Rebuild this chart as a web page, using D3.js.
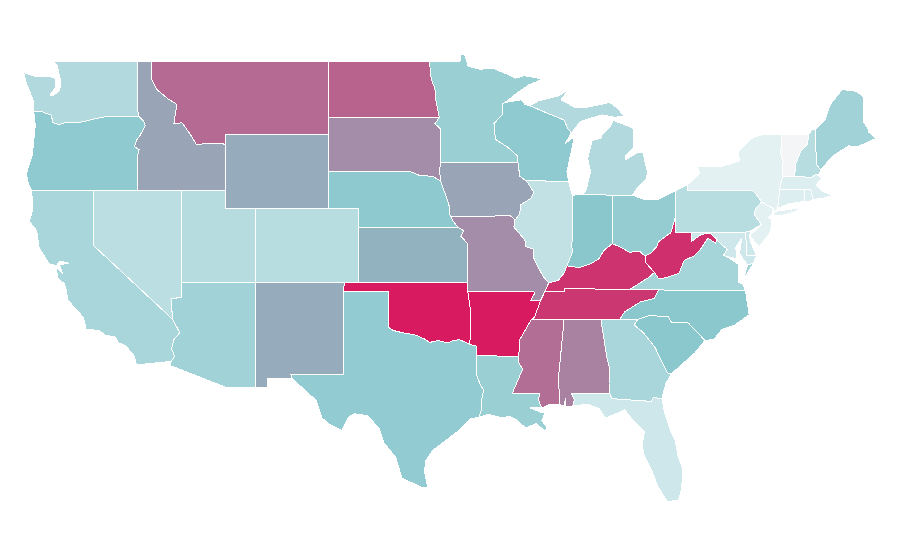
<!DOCTYPE html>
<html><head><meta charset="utf-8">
<script src="https://cdnjs.cloudflare.com/ajax/libs/d3/7.8.5/d3.min.js"></script>
<style>html,body{margin:0;padding:0;background:#fff}svg{display:block}</style>
</head><body><svg width="900" height="560"></svg>
<script>
const stateNames=["WA","OR","CA","NV","ID","UT","AZ","CO","WY","MT","ND","SD","NE","KS","NM","OK","TX","MN","IA","MO","AR","LA","MS","AL","WI","IL","IN","MI","OH","KY","TN","WV","VA","NC","SC","GA","FL","PA","NY","NJ","DE","MD","CT","RI","MA","VT","NH","ME"];
const stateValues=[31,47,35,27,60,29,39,28,58,77,79,67,48,56,58,100,46,42,60,67,100,42,76,70,47,24,50,31,45,93,92,94,37,49,49,35,18,28,8,8,18,18,11,11,11,0,28,39];
const colorStops=["#f4f5f6","#e3f1f3","#89c7cd","#d81b60"];
const valueStops=[0,8,50,100];

const outlines={
WA:[[[-124.73,48.38],[-124.6,47.9],[-124.3,47.3],[-124.1,46.9],[-124.05,46.27],[-123.5,46.26],[-123.2,46.15],[-122.9,46.1],[-122.8,45.85],[-122.75,45.65],[-122.3,45.55],[-121.9,45.68],[-121.2,45.65],[-120.6,45.73],[-119.6,45.92],[-118.98,46],[-116.92,46],[-116.96,46.2],[-117.04,46.42],[-117.03,49],[-122.76,49],[-122.45,48.75],[-122.35,48.3],[-122.2,47.9],[-122.3,47.4],[-122.7,47.15],[-122.95,47.15],[-122.55,47.6],[-122.55,47.95],[-122.7,48.12],[-123.2,48.15],[-124,48.17]]],
OR:[[[-124.05,46.27],[-123.95,45.5],[-124.05,44.7],[-124.15,43.9],[-124.4,43.3],[-124.55,42.84],[-124.4,42.3],[-124.2,42],[-117.03,42],[-117.03,43.83],[-116.9,44.2],[-117.22,44.35],[-117.05,44.75],[-116.85,44.95],[-116.5,45.5],[-116.6,45.75],[-116.92,46],[-118.98,46],[-119.6,45.92],[-120.6,45.73],[-121.2,45.65],[-121.9,45.68],[-122.3,45.55],[-122.75,45.65],[-122.8,45.85],[-122.9,46.1],[-123.2,46.15],[-123.5,46.26]]],
CA:[[[-124.2,42],[-120,42],[-120,39],[-114.63,35],[-114.15,34.27],[-114.55,33.9],[-114.7,33.4],[-114.5,33],[-114.72,32.72],[-117.08,32.53],[-117.28,33.1],[-117.9,33.6],[-118.35,33.75],[-118.5,34.03],[-119.2,34.15],[-119.6,34.38],[-120.5,34.47],[-120.68,35.1],[-121.3,35.65],[-121.75,36.05],[-121.85,36.6],[-122,36.95],[-122.4,37.2],[-122.5,37.6],[-122.45,37.8],[-122.1,37.5],[-122.3,37.95],[-121.7,38.05],[-122.3,38.15],[-122.5,37.9],[-123,38],[-123.7,38.9],[-123.78,39.4],[-123.85,39.8],[-124.35,40.3],[-124.1,41]]],
NV:[[[-120,42],[-114.04,42],[-114.05,36.2],[-114.75,36.1],[-114.63,35],[-120,39]]],
ID:[[[-117.03,49],[-116.05,49],[-116.05,48],[-115.7,47.45],[-114.95,46.95],[-114.35,46.65],[-114.55,45.6],[-114,45.65],[-113.45,45.05],[-113,44.45],[-112.3,44.55],[-111.5,44.55],[-111.05,44.48],[-111.05,42],[-117.03,42],[-117.03,43.83],[-116.9,44.2],[-117.22,44.35],[-117.05,44.75],[-116.85,44.95],[-116.5,45.5],[-116.6,45.75],[-116.92,46],[-116.96,46.2],[-117.04,46.42]]],
UT:[[[-114.04,42],[-111.05,42],[-111.05,41],[-109.05,41],[-109.05,37],[-114.05,37]]],
AZ:[[[-114.05,37],[-109.05,37],[-109.05,31.33],[-111.07,31.33],[-114.82,32.5],[-114.72,32.72],[-114.5,33],[-114.7,33.4],[-114.55,33.9],[-114.15,34.27],[-114.63,35],[-114.75,36.1],[-114.05,36.2]]],
CO:[[[-109.05,41],[-102.05,41],[-102.05,37],[-109.05,37]]],
WY:[[[-111.05,45],[-104.05,45],[-104.05,41],[-111.05,41]]],
MT:[[[-116.05,49],[-104.05,49],[-104.05,45],[-111.05,45],[-111.05,44.48],[-111.5,44.55],[-112.3,44.55],[-113,44.45],[-113.45,45.05],[-114,45.65],[-114.55,45.6],[-114.35,46.65],[-114.95,46.95],[-115.7,47.45],[-116.05,48]]],
ND:[[[-104.05,49],[-97.23,49],[-97.1,48],[-96.85,47.5],[-96.8,46.9],[-96.56,45.94],[-104.05,45.94]]],
SD:[[[-104.05,45.94],[-96.56,45.94],[-96.85,45.6],[-96.45,45.3],[-96.45,43.5],[-96.55,43.1],[-96.45,42.49],[-97,42.75],[-97.9,42.8],[-98.5,43],[-104.05,43]]],
NE:[[[-104.05,43],[-98.5,43],[-97.9,42.8],[-97,42.75],[-96.45,42.49],[-96.25,42],[-96.1,41.7],[-95.9,41.2],[-95.85,40.7],[-95.77,40.58],[-95.6,40.3],[-95.31,40],[-102.05,40],[-102.05,41],[-104.05,41]]],
KS:[[[-102.05,40],[-95.31,40],[-94.9,39.8],[-95.1,39.5],[-94.62,39.1],[-94.62,37],[-102.05,37]]],
NM:[[[-109.05,37],[-103,37],[-103.04,36.5],[-103.06,32],[-106.62,32],[-106.53,31.78],[-108.2,31.78],[-108.2,31.33],[-109.05,31.33]]],
OK:[[[-103,37],[-94.62,37],[-94.62,36.5],[-94.43,35.4],[-94.48,33.64],[-95.2,33.9],[-95.6,33.85],[-96,33.72],[-96.6,33.85],[-97.2,33.75],[-97.6,33.95],[-98.1,34.13],[-99.2,34.3],[-99.7,34.4],[-100,34.56],[-100,36.5],[-103.04,36.5]]],
TX:[[[-103.04,36.5],[-100,36.5],[-100,34.56],[-99.7,34.4],[-99.2,34.3],[-98.1,34.13],[-97.6,33.95],[-97.2,33.75],[-96.6,33.85],[-96,33.72],[-95.6,33.85],[-95.2,33.9],[-94.48,33.64],[-94.04,33.55],[-94.04,33.02],[-94.04,32],[-93.8,31.5],[-93.55,31.15],[-93.7,30.6],[-93.7,30.1],[-93.85,29.7],[-94.45,29.6],[-94.7,29.4],[-95.2,29],[-96,28.5],[-97,27.9],[-97.5,27.3],[-97.55,26.7],[-97.35,25.9],[-97.6,25.85],[-98.2,26.06],[-99.1,26.4],[-99.5,27.5],[-100.3,28.3],[-100.65,29.1],[-101.4,29.77],[-102.3,29.88],[-102.7,29.7],[-103.15,28.98],[-104,29.3],[-104.5,29.65],[-104.9,30.6],[-106,31.4],[-106.53,31.78],[-106.62,32],[-103.06,32]]],
MN:[[[-97.23,49],[-95.15,49],[-95.15,49.38],[-94.82,49.32],[-94.6,48.72],[-93.8,48.55],[-92.95,48.62],[-92,48.3],[-91.4,48.07],[-90.8,48.2],[-90,48.1],[-89.6,48],[-90.5,47.7],[-91.3,47.25],[-92.1,46.75],[-92.29,46.66],[-92.29,46.1],[-92.85,45.6],[-92.75,44.75],[-91.95,44.35],[-91.25,43.85],[-91.22,43.5],[-96.45,43.5],[-96.45,45.3],[-96.85,45.6],[-96.56,45.94],[-96.8,46.9],[-96.85,47.5],[-97.1,48]]],
IA:[[[-96.45,43.5],[-91.22,43.5],[-91.1,42.75],[-90.65,42.5],[-90.15,41.9],[-90.35,41.55],[-91.05,41.2],[-91.1,40.7],[-91.42,40.38],[-91.73,40.61],[-94.5,40.58],[-95.77,40.58],[-95.85,40.7],[-95.9,41.2],[-96.1,41.7],[-96.25,42],[-96.45,42.49],[-96.55,43.1]]],
MO:[[[-95.77,40.58],[-94.5,40.58],[-91.73,40.61],[-91.42,40.38],[-91.5,40],[-90.75,39.3],[-90.7,38.95],[-90.15,38.8],[-90.2,38.4],[-89.9,37.9],[-89.5,37.3],[-89.13,36.98],[-89.4,36.5],[-89.7,36],[-90.37,36],[-90.1,36.4],[-90.15,36.5],[-94.62,36.5],[-94.62,37],[-94.62,39.1],[-95.1,39.5],[-94.9,39.8],[-95.31,40],[-95.6,40.3]]],
AR:[[[-94.62,36.5],[-90.15,36.5],[-90.1,36.4],[-90.37,36],[-89.7,36],[-90.1,35.1],[-90.3,35],[-90.6,34.6],[-91.1,33.9],[-91.17,33],[-94.04,33.02],[-94.04,33.55],[-94.48,33.64],[-94.43,35.4]]],
LA:[[[-94.04,33.02],[-91.17,33],[-91.15,32.6],[-90.9,32.3],[-91.6,31],[-89.73,31],[-89.85,30.65],[-89.6,30.2],[-90.4,30.2],[-89.8,30],[-89.4,29.9],[-89.6,29.5],[-89.25,29.15],[-89.4,28.95],[-90,29.35],[-90.7,29.1],[-91.3,29.55],[-91.85,29.75],[-92.3,29.65],[-93.2,29.85],[-93.85,29.7],[-93.7,30.1],[-93.7,30.6],[-93.55,31.15],[-93.8,31.5],[-94.04,32]]],
MS:[[[-90.3,35],[-88.2,35],[-88.1,34.9],[-88.47,31.9],[-88.4,30.37],[-89.1,30.38],[-89.6,30.2],[-89.85,30.65],[-89.73,31],[-91.6,31],[-90.9,32.3],[-91.15,32.6],[-91.17,33],[-91.1,33.9],[-90.6,34.6]]],
AL:[[[-88.2,35],[-85.6,34.98],[-85.18,32.87],[-85,32.3],[-85.05,31.5],[-85,31],[-87.6,31],[-87.4,30.65],[-87.5,30.3],[-88,30.25],[-88,30.7],[-88.1,30.3],[-88.4,30.37],[-88.47,31.9],[-88.1,34.9]]],
WI:[[[-92.1,46.75],[-91,46.9],[-90.75,46.65],[-90.42,46.57],[-89.1,46.13],[-88.1,45.8],[-87.85,45.35],[-87.6,45.1],[-88,44.55],[-87.4,44.9],[-87.55,44.3],[-87.9,43],[-87.8,42.49],[-90.65,42.5],[-91.1,42.75],[-91.22,43.5],[-91.25,43.85],[-91.95,44.35],[-92.75,44.75],[-92.85,45.6],[-92.29,46.1],[-92.29,46.66]]],
IL:[[[-90.65,42.5],[-87.8,42.49],[-87.53,41.7],[-87.53,39.35],[-87.6,39],[-87.5,38.7],[-87.9,37.9],[-88.1,37.5],[-88.5,37.1],[-89.13,36.98],[-89.5,37.3],[-89.9,37.9],[-90.2,38.4],[-90.15,38.8],[-90.7,38.95],[-90.75,39.3],[-91.5,40],[-91.42,40.38],[-91.1,40.7],[-91.05,41.2],[-90.35,41.55],[-90.15,41.9]]],
IN:[[[-87.53,41.7],[-87.2,41.76],[-86.82,41.76],[-84.81,41.73],[-84.82,39.1],[-85.4,38.73],[-85.75,38.27],[-86.3,38],[-87.1,37.8],[-87.9,37.9],[-87.5,38.7],[-87.6,39],[-87.53,39.35]]],
MI:[[[-86.82,41.76],[-84.81,41.73],[-83.45,41.73],[-83.15,42.1],[-82.5,42.6],[-82.45,43],[-82.75,44.05],[-83.05,44.07],[-83.9,43.65],[-83.9,43.9],[-83.4,44.3],[-83.4,45.35],[-84,45.55],[-84.75,45.78],[-85,45.4],[-85.55,45],[-85.6,44.8],[-86.2,44.7],[-86.5,43.7],[-86.3,43],[-86.6,42]],[[-90.42,46.57],[-89.8,46.85],[-88.5,47.1],[-87.8,47.45],[-88.3,46.9],[-87.4,46.5],[-86.5,46.5],[-85,46.75],[-84.5,46.45],[-84,46],[-84.7,45.95],[-85.5,46.08],[-86.5,45.85],[-87,45.7],[-87.6,45.1],[-87.85,45.35],[-88.1,45.8],[-89.1,46.13]]],
OH:[[[-84.81,41.73],[-83.45,41.73],[-82.7,41.5],[-81.7,41.5],[-80.52,41.98],[-80.52,40.64],[-80.85,39.7],[-81.7,39.2],[-81.8,38.95],[-82.2,38.6],[-82.6,38.42],[-83,38.7],[-83.65,38.63],[-84.25,38.9],[-84.82,39.1]]],
KY:[[[-89.4,36.5],[-88.07,36.5],[-88.07,36.68],[-86.5,36.65],[-83.68,36.6],[-82.3,37.3],[-81.97,37.54],[-82.6,38.1],[-82.6,38.42],[-83,38.7],[-83.65,38.63],[-84.25,38.9],[-84.82,39.1],[-85.4,38.73],[-85.75,38.27],[-86.3,38],[-87.1,37.8],[-87.9,37.9],[-88.1,37.5],[-88.5,37.1],[-89.13,36.98]]],
TN:[[[-90.3,35],[-88.2,35],[-85.6,34.98],[-84.32,34.99],[-84,35.4],[-82.9,35.95],[-82,36.12],[-81.68,36.59],[-83.68,36.6],[-86.5,36.65],[-88.07,36.68],[-88.07,36.5],[-89.4,36.5],[-89.7,36],[-90.1,35.1]]],
WV:[[[-82.6,38.42],[-82.6,38.1],[-81.97,37.54],[-81.68,37.2],[-81.2,37.25],[-80.3,37.5],[-79.95,38.2],[-79.3,38.42],[-78.87,38.76],[-78.35,39.4],[-77.83,39.13],[-77.72,39.32],[-78.2,39.67],[-78.8,39.6],[-79.48,39.2],[-79.48,39.72],[-80.52,39.72],[-80.52,40.64],[-80.85,39.7],[-81.7,39.2],[-81.8,38.95],[-82.2,38.6]]],
VA:[[[-83.68,36.6],[-81.68,36.59],[-75.8,36.55],[-76,36.93],[-76.3,37],[-76.3,37.55],[-76.3,38],[-77.05,38.4],[-77.3,38.45],[-77.04,38.8],[-77.5,39.1],[-77.72,39.32],[-77.83,39.13],[-78.35,39.4],[-78.87,38.76],[-79.3,38.42],[-79.95,38.2],[-80.3,37.5],[-81.2,37.25],[-81.68,37.2],[-81.97,37.54],[-82.3,37.3]],[[-75.95,37.15],[-75.65,37.95],[-75.25,38.03]]],
NC:[[[-84.32,34.99],[-83.1,35],[-82.3,35.2],[-81.05,35.15],[-80.8,34.82],[-79.67,34.8],[-78.55,33.86],[-77.95,33.9],[-77.4,34.45],[-76.5,34.7],[-75.55,35.25],[-75.8,36.55],[-81.68,36.59],[-82,36.12],[-82.9,35.95],[-84,35.4]]],
SC:[[[-83.1,35],[-82.3,35.2],[-81.05,35.15],[-80.8,34.82],[-79.67,34.8],[-78.55,33.86],[-79.2,33.2],[-79.9,32.7],[-80.85,32.03],[-81.1,32.1],[-81.4,32.6],[-81.95,33.5],[-82.75,34.3],[-83.35,34.7]]],
GA:[[[-85.6,34.98],[-83.1,35],[-83.35,34.7],[-82.75,34.3],[-81.95,33.5],[-81.4,32.6],[-81.1,32.1],[-80.85,32.03],[-81.2,31.5],[-81.4,30.9],[-81.45,30.71],[-82.05,30.75],[-82.2,30.55],[-84.86,30.7],[-85,31],[-85.05,31.5],[-85,32.3],[-85.18,32.87]]],
FL:[[[-87.6,31],[-85,31],[-84.86,30.7],[-82.2,30.55],[-82.05,30.75],[-81.45,30.71],[-81.3,30],[-80.9,29],[-80.55,28.4],[-80.35,27.5],[-80.05,26.9],[-80.12,25.8],[-80.35,25.2],[-81.1,25.12],[-81.75,25.95],[-82.1,26.7],[-82.7,27.7],[-82.8,28.2],[-82.65,28.9],[-83.4,29.5],[-84,30.1],[-84.35,29.95],[-85.3,29.65],[-85.7,30.15],[-86.5,30.4],[-87.5,30.3],[-87.4,30.65]]],
PA:[[[-80.52,41.98],[-79.76,42.27],[-79.76,42],[-75.35,42],[-75.05,41.75],[-74.7,41.36],[-75.13,40.98],[-75.2,40.65],[-74.72,40.15],[-75.4,39.8],[-75.79,39.72],[-80.52,39.72]]],
NY:[[[-79.76,42.27],[-78.9,42.9],[-79.05,43.27],[-77.5,43.27],[-76.5,43.5],[-76.2,43.6],[-76.3,44.1],[-75.3,44.85],[-74.7,45],[-73.35,45],[-73.4,44],[-73.25,43.55],[-73.28,42.75],[-73.5,42.05],[-73.55,41.3],[-73.65,41],[-73.9,40.8],[-73.9,41],[-74.7,41.36],[-75.05,41.75],[-75.35,42],[-79.76,42]],[[-74,40.6],[-73.75,40.85],[-72.6,40.98],[-72,41.1],[-72.5,40.8],[-73.5,40.6]]],
NJ:[[[-74.7,41.36],[-73.9,41],[-74,40.7],[-74.25,40.5],[-74,40.4],[-74.1,39.75],[-74.4,39.4],[-74.9,38.93],[-75.5,39.55],[-74.72,40.15],[-75.2,40.65],[-75.13,40.98]]],
DE:[[[-75.79,39.72],[-75.4,39.8],[-75.55,39.5],[-75.4,39.1],[-75.05,38.45],[-75.7,38.46]]],
MD:[[[-79.48,39.72],[-75.79,39.72],[-75.7,38.46],[-75.05,38.45],[-75.25,38.03],[-75.65,37.95],[-75.9,38.2],[-76.2,38.6],[-76.05,39.4],[-76.45,38.9],[-76.4,38.3],[-77.05,38.4],[-77.3,38.45],[-77.04,38.8],[-77.5,39.1],[-77.72,39.32],[-78.2,39.67],[-78.8,39.6],[-79.48,39.2]]],
CT:[[[-73.5,42.05],[-71.8,42.02],[-71.8,41.4],[-72.9,41.25],[-73.65,41],[-73.55,41.3]]],
RI:[[[-71.8,42.02],[-71.38,42.02],[-71.2,41.5],[-71.5,41.37],[-71.8,41.4]]],
MA:[[[-73.5,42.05],[-73.28,42.75],[-72.46,42.73],[-71.3,42.7],[-71,42.87],[-70.6,42.65],[-71,42.3],[-70.6,41.95],[-70,41.75],[-70.2,42.07],[-69.95,41.7],[-70.6,41.55],[-71.2,41.5],[-71.38,42.02],[-71.8,42.02]]],
VT:[[[-73.35,45],[-71.5,45.01],[-71.6,44.5],[-72.05,44.1],[-72.4,43.4],[-72.46,42.73],[-73.28,42.75],[-73.25,43.55],[-73.4,44]]],
NH:[[[-71.5,45.01],[-71.3,45.3],[-71.08,45.3],[-70.98,43.4],[-70.7,43.08],[-70.82,42.87],[-71,42.87],[-71.3,42.7],[-72.46,42.73],[-72.4,43.4],[-72.05,44.1],[-71.6,44.5]]],
ME:[[[-71.08,45.3],[-70.4,45.8],[-70.25,46.2],[-70,46.7],[-69.23,47.46],[-69,47.43],[-68.3,47.36],[-67.8,47.07],[-67.8,45.7],[-67.45,45.3],[-67.45,45.15],[-66.95,44.8],[-68.2,44.35],[-68.8,44.4],[-69.6,44],[-70,43.75],[-70.7,43.08],[-70.98,43.4]]]
};

const lonScale=d3.scaleLinear().domain([-109.05,-102.05]).range([255,358.25]);
const latScale=d3.scaleLinear().domain([49,41]).range([61,208.6]);
const color=d3.scaleLinear().domain(valueStops).range(colorStops);
const projection=d3.geoTransform({point(lon,lat){this.stream.point(lonScale(lon),latScale(lat));}});
const path=d3.geoPath(projection);
const features=stateNames.map((n,i)=>({type:"Feature",id:n,properties:{value:stateValues[i]},
  geometry:{type:"MultiPolygon",coordinates:outlines[n].map(r=>[[...r,r[0]]])}}));
d3.select("svg").selectAll("path").data(features).join("path")
  .attr("d",path).attr("fill",d=>color(d.properties.value))
  .attr("stroke","#fff").attr("stroke-width",1).attr("stroke-linejoin","round")
  .attr("shape-rendering","crispEdges");
</script></body></html>
